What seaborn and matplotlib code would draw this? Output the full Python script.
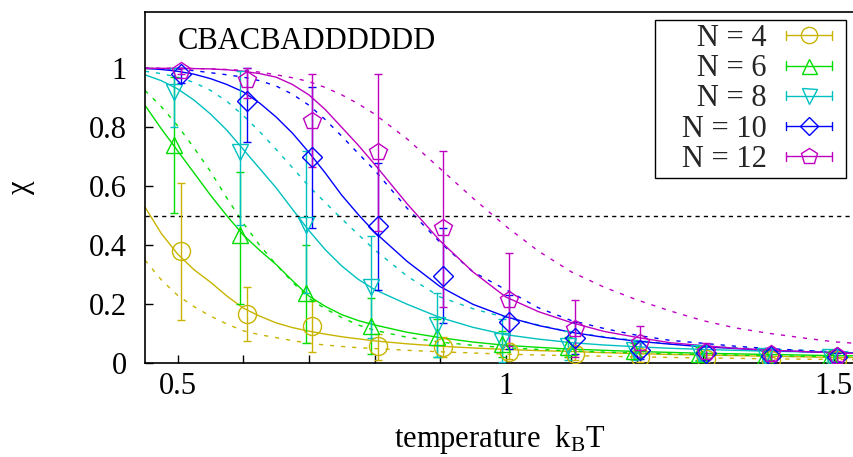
import numpy as np
import pandas as pd
import matplotlib
matplotlib.use("Agg")
import matplotlib.pyplot as plt
import seaborn as sns
from matplotlib.lines import Line2D
from matplotlib.legend_handler import HandlerBase
from matplotlib.ticker import FixedLocator, FuncFormatter

# ---------------- data ----------------
T_points = [0.5, 0.6, 0.7, 0.8, 0.9, 1.0, 1.1, 1.2, 1.3, 1.4, 1.5]

N4_val = [0.38, 0.166, 0.125, 0.058, 0.055, 0.040, 0.033, 0.020, 0.015, 0.012, 0.010]
N4_lo = [0.146, 0.075, 0.037, 0.010, 0.020, 0.015, 0.012, 0.005, 0.004, 0.003, 0.003]
N4_hi = [0.61, 0.26, 0.21, 0.10, 0.09, 0.07, 0.055, 0.035, 0.027, 0.020, 0.018]

N6_val = [0.74, 0.434, 0.237, 0.125, 0.088, 0.064, 0.055, 0.042, 0.032, 0.025, 0.020]
N6_lo = [0.51, 0.20, 0.068, 0.03, 0.02, 0.02, 0.02, 0.015, 0.010, 0.008, 0.006]
N6_hi = [0.97, 0.65, 0.40, 0.22, 0.15, 0.11, 0.09, 0.07, 0.055, 0.042, 0.035]

N8_val = [0.92, 0.715, 0.47, 0.257, 0.13, 0.075, 0.06, 0.045, 0.035, 0.025, 0.020]
N8_lo = [0.80, 0.47, 0.24, 0.085, 0.02, 0.005, 0.01, 0.01, 0.008, 0.005, 0.004]
N8_hi = [1.0, 0.99, 0.72, 0.43, 0.24, 0.15, 0.11, 0.08, 0.06, 0.045, 0.036]

N10_val = [0.98, 0.888, 0.70, 0.467, 0.295, 0.14, 0.085, 0.044, 0.035, 0.025, 0.020]
N10_lo = [0.95, 0.75, 0.46, 0.248, 0.135, 0.05, 0.03, 0.015, 0.012, 0.008, 0.006]
N10_hi = [1.0, 1.0, 0.935, 0.68, 0.46, 0.23, 0.14, 0.075, 0.06, 0.042, 0.035]

N12_val = [0.99, 0.96, 0.82, 0.715, 0.457, 0.213, 0.115, 0.07, 0.04, 0.03, 0.025]
N12_lo = [0.98, 0.90, 0.667, 0.45, 0.19, 0.06, 0.02, 0.02, 0.015, 0.01, 0.008]
N12_hi = [1.0, 1.0, 0.98, 0.98, 0.72, 0.373, 0.213, 0.125, 0.07, 0.05, 0.045]

T_curve = [0.45, 0.475, 0.50, 0.525, 0.55, 0.575, 0.60, 0.625, 0.65, 0.675, 0.70, 0.725,
           0.75, 0.775, 0.80, 0.85, 0.90, 0.95, 1.00,
           1.05, 1.10, 1.15, 1.20, 1.25, 1.30, 1.35, 1.40, 1.45, 1.50, 1.55]

N4_fit = [0.53, 0.44, 0.37, 0.317, 0.275, 0.228, 0.187, 0.16, 0.137, 0.121, 0.109, 0.099,
          0.09, 0.083, 0.076, 0.066, 0.058, 0.052, 0.047,
          0.043, 0.040, 0.036, 0.033, 0.030, 0.028, 0.026, 0.024, 0.022, 0.020, 0.019]
N4_theo = [0.35, 0.283, 0.23, 0.192, 0.16, 0.133, 0.11, 0.097, 0.087, 0.077, 0.068, 0.062,
           0.057, 0.053, 0.050, 0.044, 0.039, 0.035, 0.031,
           0.028, 0.026, 0.024, 0.022, 0.020, 0.018, 0.017, 0.015, 0.014, 0.013, 0.012]
N6_fit = [0.875, 0.795, 0.72, 0.645, 0.57, 0.5, 0.435, 0.383, 0.335, 0.28, 0.228, 0.193,
          0.165, 0.145, 0.13, 0.105, 0.087, 0.072, 0.061,
          0.054, 0.048, 0.044, 0.040, 0.037, 0.034, 0.032, 0.030, 0.028, 0.026, 0.025]
N6_theo = [0.925, 0.87, 0.805, 0.73, 0.65, 0.56, 0.475, 0.40, 0.335, 0.275, 0.22, 0.185,
           0.155, 0.13, 0.112, 0.088, 0.072, 0.061, 0.053,
           0.047, 0.042, 0.038, 0.035, 0.032, 0.030, 0.028, 0.026, 0.024, 0.022, 0.021]
N8_fit = [0.978, 0.958, 0.93, 0.892, 0.845, 0.79, 0.725, 0.66, 0.595, 0.522, 0.45, 0.385,
          0.33, 0.285, 0.25, 0.20, 0.155, 0.122, 0.097,
          0.082, 0.070, 0.062, 0.056, 0.051, 0.047, 0.044, 0.041, 0.039, 0.037, 0.035]
N8_theo = [0.99, 0.982, 0.97, 0.952, 0.925, 0.888, 0.84, 0.785, 0.725, 0.663, 0.60, 0.545,
           0.49, 0.437, 0.385, 0.295, 0.225, 0.185, 0.155,
           0.13, 0.105, 0.09, 0.077, 0.067, 0.059, 0.053, 0.048, 0.044, 0.040, 0.037]
N10_fit = [1.0, 0.996, 0.99, 0.98, 0.965, 0.945, 0.92, 0.882, 0.835, 0.78, 0.715, 0.645,
           0.57, 0.505, 0.445, 0.345, 0.26, 0.20, 0.158,
           0.128, 0.105, 0.088, 0.075, 0.065, 0.056, 0.050, 0.044, 0.040, 0.036, 0.033]
N10_theo = [1.0, 0.999, 0.997, 0.992, 0.985, 0.978, 0.97, 0.958, 0.94, 0.912, 0.875, 0.826,
            0.77, 0.712, 0.655, 0.525, 0.41, 0.31, 0.25,
            0.188, 0.145, 0.118, 0.095, 0.078, 0.068, 0.058, 0.050, 0.044, 0.038, 0.034]
N12_fit = [1.0, 1.0, 1.0, 0.999, 0.998, 0.995, 0.99, 0.982, 0.97, 0.945, 0.91, 0.86,
           0.80, 0.74, 0.675, 0.54, 0.415, 0.31, 0.225,
           0.175, 0.138, 0.108, 0.088, 0.070, 0.060, 0.051, 0.045, 0.040, 0.036, 0.032]
N12_theo = [1.0, 1.0, 1.0, 0.999, 0.998, 0.996, 0.993, 0.987, 0.978, 0.968, 0.955, 0.935,
            0.91, 0.88, 0.845, 0.76, 0.66, 0.56, 0.465,
            0.38, 0.31, 0.258, 0.215, 0.178, 0.145, 0.12, 0.102, 0.087, 0.073, 0.065]

labels = ["N = 4", "N = 6", "N = 8", "N = 10", "N = 12"]
colors = ["#c8b400", "#00dd00", "#00c0c0", "#0000ff", "#c000c0"]
markers = ["o", "^", "v", "D", "p"]
msizes = [13, 12, 12, 10, 13]
dodge = [0.005, -0.005, -0.005, 0.005, 0.005]

vals = [N4_val, N6_val, N8_val, N10_val, N12_val]
los = [N4_lo, N6_lo, N8_lo, N10_lo, N12_lo]
his = [N4_hi, N6_hi, N8_hi, N10_hi, N12_hi]
fits = [N4_fit, N6_fit, N8_fit, N10_fit, N12_fit]
theos = [N4_theo, N6_theo, N8_theo, N10_theo, N12_theo]

# ---------------- style ----------------
sns.set_theme(style="ticks")
plt.rcParams["font.family"] = ["Liberation Serif", "DejaVu Serif"]
plt.rcParams["mathtext.fontset"] = "custom"
plt.rcParams["mathtext.rm"] = "Liberation Serif"
plt.rcParams["mathtext.it"] = "Liberation Serif:italic"

FS = 22
W, H = 854, 457
fig = plt.figure(figsize=(W / 100, H / 100), dpi=100)
x0p, x1p, y0p, y1p = 145, 854, 363.3, 12
ax = fig.add_axes([x0p / W, 1 - y0p / H, (x1p - x0p) / W, (y0p - y1p) / H])

px_per_T = 656.0
xmin = 0.5 - (177.7 - x0p) / px_per_T
xmax = 0.5 + (x1p - 177.7) / px_per_T
ax.set_xlim(xmin, xmax)
ax.set_ylim(0, (y0p - y1p) / 295.0)

# curves
for i in range(5):
    df_fit = pd.DataFrame({"T": T_curve, "chi": fits[i]})
    df_theo = pd.DataFrame({"T": T_curve, "chi": theos[i]})
    sns.lineplot(data=df_fit, x="T", y="chi", color=colors[i], lw=1.0, ax=ax,
                 sort=False, estimator=None)
    l = sns.lineplot(data=df_theo, x="T", y="chi", color=colors[i], lw=1.0, ax=ax,
                     sort=False, estimator=None)
    l.lines[-1].set_dashes((3, 5))

ax.axhline(0.5, color="black", lw=1.0, dashes=(3, 3))

# points with error bars
for i in range(5):
    x = np.array(T_points) + dodge[i]
    y = np.array(vals[i])
    err = [y - np.array(los[i]), np.array(his[i]) - y]
    ax.errorbar(x, y, yerr=err, fmt=markers[i], ms=msizes[i], mfc="none",
                mec=colors[i], mew=1.0, ecolor=colors[i], elinewidth=1.0,
                capsize=3, capthick=1.0, zorder=5)

# axes styling
for s in ["left", "bottom", "top"]:
    ax.spines[s].set_color("black")
    ax.spines[s].set_linewidth(1.2)
ax.spines["right"].set_visible(False)

ax.xaxis.set_major_locator(FixedLocator([0.5, 0.6, 0.7, 0.8, 0.9, 1.0, 1.1, 1.2, 1.3, 1.4, 1.5]))
xtick_labels = {0.5: "0.5", 1.0: "1", 1.5: "1.5"}
ax.xaxis.set_major_formatter(FuncFormatter(lambda v, p: xtick_labels.get(round(v, 2), "")))
ax.yaxis.set_major_locator(FixedLocator([0, 0.2, 0.4, 0.6, 0.8, 1.0]))
ax.yaxis.set_major_formatter(FuncFormatter(lambda v, p: "%g" % round(v, 2)))
ax.tick_params(axis="both", direction="in", length=6, width=1.0, color="black",
               labelsize=FS, labelcolor="black")
ax.tick_params(axis="y", pad=13)
ax.tick_params(axis="x", pad=6)
ax.tick_params(top=False, right=False)

ax.set_xlabel(r"temperature  k$_{\mathrm{B}}$T", fontsize=FS, color="black")
ax.set_ylabel("χ", fontsize=FS, color="black")
ax.xaxis.set_label_coords(0.5, -0.17)
ax.yaxis.set_label_coords(-0.155, 0.5)

ax.text((178 - x0p) / (x1p - x0p), (y0p - 49) / (y0p - y1p), "CBACBADDDDDD",
        transform=ax.transAxes, fontsize=FS, ha="left", va="baseline", color="black")


# legend in gnuplot style (line with end caps and marker)
RIGHT_GAP = 7.5  # points of empty space after the key sample


class GnuKey(HandlerBase):
    def create_artists(self, legend, orig_handle, xdescent, ydescent, width, height,
                       fontsize, trans):
        c = orig_handle.get_color()
        m = orig_handle.get_marker()
        ms = orig_handle.get_markersize()
        yc = height / 2 - ydescent
        xa = -xdescent
        xb = -xdescent + width - RIGHT_GAP
        cap = 3.2
        arts = [
            Line2D([xa, xb], [yc, yc], color=c, lw=1.0),
            Line2D([xa, xa], [yc - cap, yc + cap], color=c, lw=1.0),
            Line2D([xb, xb], [yc - cap, yc + cap], color=c, lw=1.0),
            Line2D([(xa + xb) / 2], [yc], marker=m, ms=ms, mfc="none", mec=c,
                   mew=1.0, ls="none"),
        ]
        for a in arts:
            a.set_transform(trans)
        return arts


handles = [Line2D([], [], color=colors[i], marker=markers[i], ms=msizes[i] * 0.9)
           for i in range(5)]
leg = ax.legend(handles, ["   " + s for s in labels], handler_map={Line2D: GnuKey()},
                loc="upper right",
                bbox_to_anchor=((846 - x0p) / (x1p - x0p), (y0p - 20) / (y0p - y1p)),
                borderaxespad=0, markerfirst=False, fontsize=FS,
                handlelength=(33.1 + RIGHT_GAP) / FS,
                handletextpad=0.62, labelspacing=0.04, borderpad=0.13,
                frameon=True, fancybox=False, framealpha=1, edgecolor="black")
leg.get_frame().set_linewidth(1.0)

fig.savefig("out.png", dpi=100)
